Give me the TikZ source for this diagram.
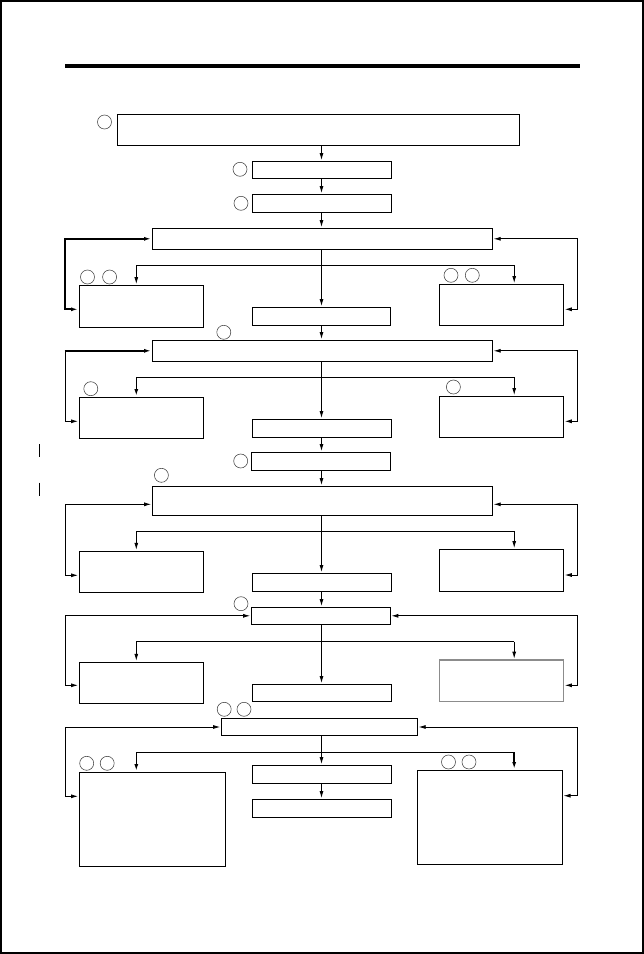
\documentclass[tikz,border=0pt]{standalone}
\usetikzlibrary{arrows.meta}
\begin{document}
\begin{tikzpicture}[x=1pt,y=-1pt,
  box/.style={draw=black,line width=1pt,inner sep=0pt,rectangle},
  graybox/.style={draw=black!45,line width=1.3pt,inner sep=0pt,rectangle},
  ring/.style={draw=black!75,line width=0.55pt,circle,inner sep=0pt,minimum size=14pt},
  tip/.tip={Latex[length=7pt,width=4pt]},
  arr/.style={line width=0.8pt,-tip,shorten >=0.8pt},
  tarr/.style={line width=1.6pt,-tip,shorten >=0.8pt},
  dbl/.style={line width=0.8pt,tip-tip,shorten >=0.8pt,shorten <=0.8pt},
  tdbl/.style={line width=1.8pt,tip-tip,shorten >=0.8pt,shorten <=0.8pt},
  bar/.style={line width=0.8pt}]
\useasboundingbox (0,0) rectangle (644,954);
\draw[line width=1.5pt] (1,1) rectangle (643,953);
\draw[line width=4pt] (65,66) -- (580,66);
\draw[line width=0.8pt] (39,444) -- (39,457);
\draw[line width=0.8pt] (39,482.5) -- (39,495.5);

\coordinate (LR) at (65,0);
\coordinate (RR) at (577.4,0);
\coordinate (cx) at (321.5,0);

% boxes
\node[box,minimum width=402pt,minimum height=31pt] (A) at (318.5,129.8) {};
\node[box,minimum width=138.4pt,minimum height=17pt] (B) at (321.8,169.8) {};
\node[box,minimum width=138.4pt,minimum height=18pt] (C) at (321.8,203.3) {};
\node[box,minimum width=340pt,minimum height=21pt] (D) at (322.4,238.8) {};
\node[box,minimum width=124pt,minimum height=42pt] (E) at (141.3,306.3) {};
\node[box,minimum width=124pt,minimum height=41pt] (F) at (501.5,304.8) {};
\node[box,minimum width=137.4pt,minimum height=18pt] (G) at (321.3,316.3) {};
\node[box,minimum width=340pt,minimum height=21pt] (H) at (322.4,350.8) {};
\node[box,minimum width=124pt,minimum height=41.4pt] (I) at (141.3,418) {};
\node[box,minimum width=124pt,minimum height=41.4pt] (J) at (501.5,417) {};
\node[box,minimum width=138.4pt,minimum height=18pt] (K) at (321.8,428.3) {};
\node[box,minimum width=138.7pt,minimum height=18pt] (L) at (320.7,461.3) {};
\node[box,minimum width=340pt,minimum height=29pt] (M) at (322.4,500.8) {};
\node[box,minimum width=124pt,minimum height=41.7pt] (N) at (141.3,571.9) {};
\node[box,minimum width=124pt,minimum height=42pt] (O) at (501.5,570.3) {};
\node[box,minimum width=138.4pt,minimum height=18pt] (P) at (321.8,582.3) {};
\node[box,minimum width=138.7pt,minimum height=17pt] (Q) at (320.7,615.8) {};
\node[box,minimum width=124pt,minimum height=41.3pt] (R) at (141.3,682.7) {};
\node[graybox,minimum width=124pt,minimum height=41.3pt] (S) at (501.5,680.7) {};
\node[box,minimum width=138.4pt,minimum height=17pt] (T) at (321.8,692.8) {};
\node[box,minimum width=195.9pt,minimum height=16.6pt] (U) at (319.4,727) {};
\node[box,minimum width=146.2pt,minimum height=94pt] (V) at (152.4,819.3) {};
\node[box,minimum width=144.9pt,minimum height=94pt] (W) at (489.8,817.3) {};
\node[box,minimum width=138.4pt,minimum height=18pt] (X) at (321.8,774.3) {};
\node[box,minimum width=138.4pt,minimum height=18pt] (Y) at (321.8,808.3) {};

% circles
\node[ring] (cA) at (104.5,122) {};
\node[ring] (cB) at (240,169.3) {};
\node[ring] (cC) at (241,203.3) {};
\node[ring] (cE1) at (87.5,277) {};
\node[ring] (cE2) at (109.6,277) {};
\node[ring] (cF1) at (451,275.3) {};
\node[ring] (cF2) at (472.3,275.3) {};
\node[ring] (cH) at (223.8,332.3) {};
\node[ring] (cI) at (90.8,388.7) {};
\node[ring] (cJ) at (453.4,387) {};
\node[ring] (cL) at (240.7,461) {};
\node[ring] (cM) at (161.4,475.3) {};
\node[ring] (cQ) at (241,603.7) {};
\node[ring] (cU1) at (224.2,709.3) {};
\node[ring] (cU2) at (244,709.3) {};
\node[ring] (cV1) at (86.7,763.3) {};
\node[ring] (cV2) at (107.2,763.3) {};
\node[ring] (cW1) at (448.5,762) {};
\node[ring] (cW2) at (469,762) {};

% straight chain
\draw[arr] (cx |- A.south) -- (cx |- B.north);
\draw[arr] (cx |- B.south) -- (cx |- C.north);
\draw[arr] (cx |- C.south) -- (cx |- D.north);
\draw[arr] (cx |- D.south) -- (cx |- G.north);
\draw[arr] (cx |- G.south) -- (cx |- H.north);
\draw[arr] (cx |- H.south) -- (cx |- K.north);
\draw[arr] (cx |- K.south) -- (cx |- L.north);
\draw[arr] (cx |- L.south) -- (cx |- M.north);
\draw[arr] (cx |- M.south) -- (cx |- P.north);
\draw[arr] (cx |- P.south) -- (cx |- Q.north);
\draw[arr] (cx |- Q.south) -- (cx |- T.north);
\draw[arr] (cx |- U.south) -- (cx |- X.north);
\draw[arr] (cx |- X.south) -- (cx |- Y.north);

% branches
\coordinate (b1l) at (136.3,265.3); \coordinate (b1r) at (514.2,265.3);
\draw[bar] (b1l) -- (b1r);
\draw[arr] (b1l) -- (b1l |- E.north);
\draw[arr] (b1r) -- (b1r |- F.north);
\coordinate (b2l) at (136.3,377.3); \coordinate (b2r) at (514.2,377.3);
\draw[bar] (b2l) -- (b2r);
\draw[tarr] (b2l) -- (b2l |- I.north);
\draw[arr] (b2r) -- (b2r |- J.north);
\coordinate (b3l) at (136.3,531.3); \coordinate (b3r) at (514.2,531.3);
\draw[bar] (b3l) -- (b3r);
\draw[arr] (b3l) -- (b3l |- N.north);
\draw[arr] (b3r) -- (b3r |- O.north);
\coordinate (b4l) at (136.3,641.7); \coordinate (b4r) at (514.2,641.7);
\draw[bar] (b4l) -- (b4r);
\draw[arr] (b4l) -- (b4l |- R.north);
\draw[arr] (b4r) -- (b4r |- S.north);
\coordinate (b5l) at (136.3,752.3); \coordinate (b5r) at (514.2,752.3);
\draw[bar] (b5l) -- (b5r);
\draw[tarr] (b5l) -- (b5l |- V.north);
\draw[tarr] (b5r) -- (b5r |- W.north);

% loops
\coordinate (e1) at ([yshift=-3pt]E.west);
\coordinate (f1) at ([yshift=-4.5pt]F.east);
\draw[tdbl] (e1) -| (LR |- D.west) -- (D.west);
\draw[dbl] (f1) -| (RR |- D.east) -- (D.east);
\coordinate (i1) at ([yshift=-3.3pt]I.west);
\coordinate (j1) at ([yshift=-4.3pt]J.east);
\draw[line width=0.8pt,tip-,shorten <=0.8pt] (i1) -| (LR |- H.west);
\draw[tarr] ([xshift=-0.5pt]LR |- H.west) -- (H.west);
\draw[dbl] (j1) -| (RR |- H.east) -- (H.east);
\coordinate (m1) at ([yshift=-3.5pt]M.west);
\coordinate (m2) at ([yshift=-3.5pt]M.east);
\coordinate (n1) at ([yshift=-3.4pt]N.west);
\coordinate (o1) at ([yshift=-4.7pt]O.east);
\draw[dbl] (n1) -| (LR |- m1) -- (m1);
\draw[dbl] (o1) -| (RR |- m2) -- (m2);
\coordinate (r1) at ([yshift=-2.6pt]R.west);
\coordinate (s1) at ([yshift=-4.6pt]S.east);
\draw[dbl] (r1) -| (LR |- Q.west) -- (Q.west);
\draw[dbl] (s1) -| (RR |- Q.east) -- (Q.east);
\coordinate (v1) at ([yshift=23pt]V.west);
\coordinate (w1) at ([yshift=21.6pt]W.east);
\draw[dbl] (v1) -| (LR |- U.west) -- (U.west);
\draw[dbl] (w1) -| (RR |- U.east) -- (U.east);
\end{tikzpicture}
\end{document}
